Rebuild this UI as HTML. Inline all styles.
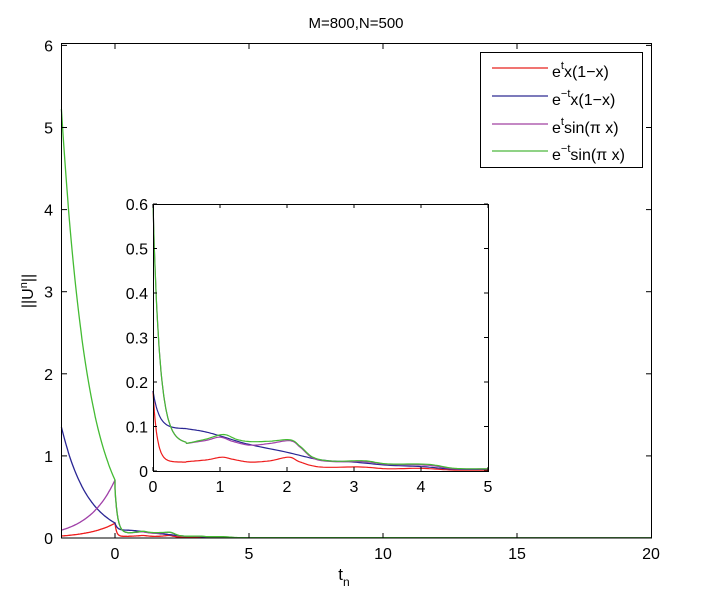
<!DOCTYPE html>
<html><head><meta charset="utf-8"><style>
html,body{margin:0;padding:0;background:#fff;width:701px;height:601px;overflow:hidden}
svg text{font-family:"Liberation Sans",sans-serif;fill:#000}
</style></head><body>
<svg id="s" width="701" height="601" xmlns="http://www.w3.org/2000/svg">
<rect x="0" y="0" width="701" height="601" fill="#fff"/>
<text x="356" y="28" font-size="15" text-anchor="middle">M=800,N=500</text>
<g id="main"></g>
<rect x="61.5" y="43.5" width="590" height="494.5" fill="none" stroke="#000" stroke-width="1"/>
<text x="344" y="580" font-size="17" text-anchor="middle">t<tspan font-size="12" dy="6">n</tspan></text>
<text transform="translate(33,291) rotate(-90)" font-size="16" text-anchor="middle">||U<tspan font-size="11" dy="-6">n</tspan><tspan dy="6">||</tspan></text>
<rect x="153" y="204" width="335" height="267" fill="#fff" stroke="none"/>
<g id="inset"></g>
<rect x="153.5" y="204.5" width="335" height="267" fill="none" stroke="#000" stroke-width="1"/>
<rect x="480.5" y="52.5" width="162" height="115" fill="#fff" stroke="#000" stroke-width="1"/>
<g font-size="16">
<line x1="492" y1="68" x2="548" y2="68" stroke="#e8201c" stroke-width="1.2"/>
<text x="552" y="77">e<tspan font-size="11" dy="-8">t</tspan><tspan dy="8">x(1−x)</tspan></text>
<line x1="492" y1="96" x2="548" y2="96" stroke="#2e2a92" stroke-width="1.2"/>
<text x="552" y="105">e<tspan font-size="11" dy="-8">−t</tspan><tspan dy="8">x(1−x)</tspan></text>
<line x1="492" y1="124" x2="548" y2="124" stroke="#a040a0" stroke-width="1.2"/>
<text x="552" y="133">e<tspan font-size="11" dy="-8">t</tspan><tspan dy="8">sin(π x)</tspan></text>
<line x1="492" y1="151" x2="548" y2="151" stroke="#4cb83c" stroke-width="1.2"/>
<text x="552" y="160">e<tspan font-size="11" dy="-8">−t</tspan><tspan dy="8">sin(π x)</tspan></text>
</g>
</svg>
<script>
var NS="http://www.w3.org/2000/svg";
function el(p,t,a,txt){var e=document.createElementNS(NS,t);for(var k in a)e.setAttribute(k,a[k]);if(txt!==undefined)e.textContent=txt;p.appendChild(e);return e;}
var cols={r:"#ee1c1c",b:"#2a2694",p:"#a040a8",g:"#44bb33"};
// knot points from t=0.5 onward
var K={
g:[[0.5,0.062],[0.8,0.072],[1.05,0.082],[1.25,0.071],[1.45,0.066],[1.75,0.067],[2.05,0.07],[2.2,0.055],[2.4,0.03],[2.7,0.022],[3.15,0.023],[3.5,0.016],[4.1,0.015],[4.5,0.006],[5,0.005]],
p:[[0.5,0.062],[0.8,0.069],[1.0,0.076],[1.2,0.066],[1.45,0.058],[1.75,0.062],[2.05,0.068],[2.2,0.053],[2.4,0.028],[2.7,0.021],[3.15,0.021],[3.5,0.015],[4.1,0.013],[4.5,0.005],[5,0.005]],
b:[[0.5,0.095],[0.75,0.089],[1.0,0.079],[1.4,0.061],[2.0,0.042],[2.5,0.025],[3.0,0.02],[3.5,0.013],[4.0,0.01],[4.5,0.004],[5,0.004]],
r:[[0.5,0.021],[0.8,0.025],[1.03,0.031],[1.2,0.026],[1.45,0.02],[1.75,0.023],[2.03,0.031],[2.2,0.02],[2.5,0.009],[3.1,0.009],[3.5,0.005],[4.0,0.006],[4.5,0.002],[5,0.002]]
};
var head={
g:function(t){return 0.061+0.539*Math.exp(-t/0.1);},
p:function(t){return 0.061+0.539*Math.exp(-t/0.1);},
b:function(t){return 0.095+0.085*Math.exp(-t/0.09)+0.0;},
r:function(t){return 0.02+0.16*Math.exp(-t/0.06);}
};
function cr(pts,n){var out=[];for(var i=0;i<pts.length-1;i++){var p0=pts[Math.max(0,i-1)],p1=pts[i],p2=pts[i+1],p3=pts[Math.min(pts.length-1,i+2)];
 for(var j=0;j<n;j++){var s=j/n,s2=s*s,s3=s2*s;
  var f=function(a,b,c,d){return 0.5*(2*b+(-a+c)*s+(2*a-5*b+4*c-d)*s2+(-a+3*b-3*c+d)*s3);};
  out.push([f(p0[0],p1[0],p2[0],p3[0]),f(p0[1],p1[1],p2[1],p3[1])]);}}
 out.push(pts[pts.length-1]);return out;}
var D={};
for(var k of ["r","b","p","g"]){var a=[];for(var i=0;i<50;i++){var t=i*0.5/50;a.push([t,head[k](t)]);}
 var c=cr(K[k],12);D[k]=a.concat(c);}
var amp={g:0.707,p:0.707,b:0.183,r:0.18};
var sgn={g:-1,p:1,b:-1,r:1};
var m=document.getElementById("main");
function MX(t){return 115+t*26.8;} function MY(v){return 538-v*82.1;}
for(var k of ["r","b","p","g"]){
 var pts=[];
 for(var i=0;i<=60;i++){var t=-2+i*2/60;pts.push([t,amp[k]*Math.exp(sgn[k]*t)]);}
 D[k].forEach(function(q){pts.push(q);});
 pts.push([20,0.002]);
 el(m,"polyline",{points:pts.map(function(q){return MX(q[0]).toFixed(1)+","+MY(q[1]).toFixed(1)}).join(" "),fill:"none",stroke:cols[k],"stroke-width":1.3});
}
[-2,0,5,10,15,20].forEach(function(t){var x=MX(t);if(t>-2&&t<20){el(m,"line",{x1:x,y1:538,x2:x,y2:533,stroke:"#000"});el(m,"line",{x1:x,y1:44,x2:x,y2:49,stroke:"#000"});}
 if(t%5==0)el(m,"text",{x:x,y:559,"font-size":16,"text-anchor":"middle"},t);});
for(var v=0;v<=6;v++){var y=MY(v);el(m,"line",{x1:62,y1:y,x2:67,y2:y,stroke:"#000"});el(m,"line",{x1:651,y1:y,x2:646,y2:y,stroke:"#000"});el(m,"text",{x:53,y:y+6,"font-size":16,"text-anchor":"end"},v);}
var n=document.getElementById("inset");
function IX(t){return 153+t*67;} function IY(v){return 471-v*445;}
for(var k of ["r","b","p","g"]){
 el(n,"polyline",{points:D[k].map(function(q){return IX(q[0]).toFixed(1)+","+IY(q[1]).toFixed(1)}).join(" "),fill:"none",stroke:cols[k],"stroke-width":1.2,"stroke-linejoin":"round"});
}
for(var t=0;t<=5;t++){var x=IX(t);el(n,"line",{x1:x,y1:471,x2:x,y2:467,stroke:"#000"});el(n,"line",{x1:x,y1:204,x2:x,y2:208,stroke:"#000"});el(n,"text",{x:x,y:492,"font-size":16,"text-anchor":"middle"},t);}
for(var i=0;i<=6;i++){var y=IY(i/10);el(n,"line",{x1:153,y1:y,x2:157,y2:y,stroke:"#000"});el(n,"line",{x1:488,y1:y,x2:484,y2:y,stroke:"#000"});el(n,"text",{x:148,y:y+6,"font-size":16,"text-anchor":"end"},i==0?"0":(i/10).toFixed(1));}
</script>
</body></html>
